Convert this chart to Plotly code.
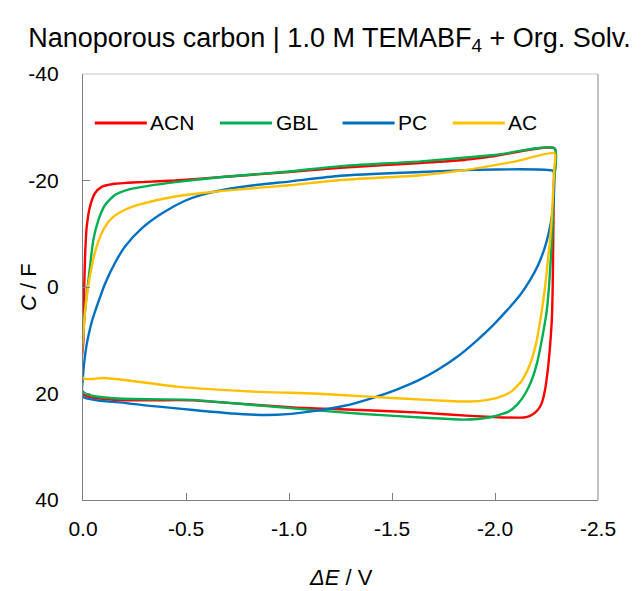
import plotly.graph_objects as go

# ---------------- data ----------------
names = ["ACN", "GBL", "PC", "AC"]
colors = ["#FF0000", "#00B050", "#0070C0", "#FFC000"]

E_ACN = [0.0, -0.002, -0.005, -0.010, -0.018, -0.034, -0.058, -0.091, -0.139, -0.285, -0.447, -0.69, -1.0, -1.25, -1.64, -1.83, -2.0, -2.29,
         -2.286, -2.283, -2.28, -2.276, -2.267, -2.255, -2.243, -2.232, -2.22, -2.20, -2.17, -2.14, -2.04, -1.88, -1.64, -1.345, -1.02, -0.535, 0.0]
C_ACN = [20.1, 10.0, 1.8, -5.7, -11.3, -15.1, -17.6, -18.8, -19.3, -19.7, -20.0, -20.7, -21.6, -22.4, -23.3, -23.8, -24.6, -26.0,
         -20.0, -10.0, 0.0, 6.0, 11.2, 16.0, 19.3, 21.2, 22.4, 23.4, 24.2, 24.5, 24.5, 24.2, 23.6, 23.1, 22.6, 21.3, 20.1]

E_GBL = [0.0, -0.003, -0.017, -0.034, -0.050, -0.075, -0.107, -0.155, -0.22, -0.317, -0.447, -0.69, -1.0, -1.25, -1.64, -2.0, -2.29,
         -2.287, -2.278, -2.262, -2.251, -2.236, -2.204, -2.178, -2.147, -2.11, -2.066, -1.97, -1.85, -1.68, -1.345, -1.02, -0.535, 0.0]
C_GBL = [19.7, 8.0, 1.8, -3.8, -8.8, -12.6, -15.4, -17.3, -18.3, -19.0, -19.7, -20.7, -21.7, -22.7, -23.6, -24.8, -26.0,
         -20.0, -10.0, 0.0, 4.5, 8.1, 14.3, 17.5, 20.0, 22.0, 23.4, 24.5, 24.9, 24.6, 23.8, 22.8, 21.2, 19.7]

E_PC = [0.0, 0.0, -0.008, -0.017, -0.030, -0.045, -0.062, -0.082, -0.107, -0.155, -0.204, -0.285, -0.382, -0.495, -0.568, -0.69, -0.85, -1.0, -1.25, -1.64, -1.9, -2.12, -2.25, -2.283,
        -2.287, -2.284, -2.275, -2.26, -2.24, -2.21, -2.17, -2.12, -2.06, -1.99, -1.91, -1.82, -1.72, -1.63, -1.52, -1.40, -1.27, -1.10, -0.94, -0.78, -0.535, -0.21, 0.0]
C_PC = [20.6, 16.8, 13.5, 11.0, 8.5, 6.2, 4.2, 2.0, -0.6, -4.5, -7.6, -11.0, -13.8, -16.2, -17.2, -18.3, -19.2, -19.8, -20.9, -21.6, -22.0, -22.1, -22.0, -21.8,
        -19.0, -16.0, -13.0, -10.0, -7.2, -4.2, -1.3, 1.6, 4.3, 7.2, 10.1, 13.0, 15.6, 17.5, 19.3, 20.9, 22.3, 23.4, 24.0, 23.9, 23.1, 21.8, 20.6]

E_AC = [0.0, -0.003, -0.018, -0.042, -0.066, -0.098, -0.139, -0.204, -0.285, -0.447, -0.568, -0.69, -1.0, -1.25, -1.64, -1.86, -2.1, -2.29,
        -2.287, -2.28, -2.27, -2.257, -2.243, -2.225, -2.2, -2.17, -2.13, -2.08, -2.02, -1.95, -1.88, -1.80, -1.71, -1.345, -1.117, -0.86, -0.455, -0.21, -0.1, 0.0]
C_AC = [17.1, 8.0, 1.8, -3.8, -7.6, -10.7, -12.9, -14.5, -15.6, -17.0, -17.6, -18.1, -19.1, -20.1, -21.0, -22.0, -23.6, -25.1,
        -22.0, -16.0, -10.0, -5.0, 0.0, 5.0, 10.5, 14.5, 17.6, 19.6, 20.7, 21.3, 21.5, 21.45, 21.3, 20.5, 20.0, 19.7, 18.7, 17.5, 17.1, 17.1]

x_ticks = [0.0, -0.5, -1.0, -1.5, -2.0, -2.5]
y_ticks = [-40, -20, 0, 20, 40]

series = [(E_ACN, C_ACN), (E_GBL, C_GBL), (E_PC, C_PC), (E_AC, C_AC)]

FONT = "Liberation Sans, Arial, sans-serif"

fig = go.Figure()
for (ex, cy), nm, col in zip(series, names, colors):
    fig.add_trace(go.Scatter(x=ex, y=cy, mode="lines", name=nm,
                             line=dict(color=col, width=2.4, shape="spline", smoothing=0.6),
                             showlegend=False))

# custom legend (line sample + label) placed inside the plot area
leg_x = [0.023, 0.266, 0.504, 0.718]
for i, (nm, col) in enumerate(zip(names, colors)):
    x0 = leg_x[i]
    fig.add_shape(type="line", xref="paper", yref="paper", x0=x0, x1=x0 + 0.101,
                  y0=0.885, y1=0.885, line=dict(color=col, width=3))
    fig.add_annotation(xref="paper", yref="paper", x=x0 + 0.104, y=0.885, text=nm,
                       showarrow=False, xanchor="left", yanchor="middle",
                       font=dict(family=FONT, size=21, color="#000000"))

# axis titles placed as annotations (positions as in the reference)
fig.add_annotation(xref="paper", yref="paper", x=-0.107, y=0.5, text="<i>C</i> / F",
                   textangle=-90, showarrow=False, xanchor="center", yanchor="middle",
                   font=dict(family=FONT, size=22, color="#000000"))
fig.add_annotation(xref="paper", yref="paper", x=0.5, y=-0.183, text="<i>ΔE</i> / V",
                   showarrow=False, xanchor="center", yanchor="middle",
                   font=dict(family=FONT, size=22, color="#000000"))

# light frame on top and right
fig.add_shape(type="line", xref="paper", yref="paper", x0=0, x1=1, y0=1, y1=1,
              line=dict(color="#C8C8C8", width=1.2))
fig.add_shape(type="line", xref="paper", yref="paper", x0=1, x1=1, y0=0, y1=1,
              line=dict(color="#9A9A9A", width=1.2))

fig.update_layout(
    width=641, height=591,
    margin=dict(l=83, r=43, t=74, b=91),
    paper_bgcolor="white", plot_bgcolor="white",
    font=dict(family=FONT, size=21, color="#000000"),
    title=dict(text="Nanoporous carbon | 1.0 M TEMABF<sub>4</sub> + Org. Solv.",
               x=0.514, xanchor="center", y=0.937, yanchor="middle",
               font=dict(family=FONT, size=27, color="#000000")),
    showlegend=False,
)
fig.update_xaxes(range=[0, -2.5], tickvals=x_ticks, ticktext=[f"{v:.1f}" for v in x_ticks],
                 showgrid=False, zeroline=False, showline=True, linecolor="#7F7F7F", linewidth=1.2,
                 ticks="inside", ticklen=7, tickcolor="#7F7F7F", ticklabelstandoff=10,
                 tickfont=dict(family=FONT, size=21), automargin=False)
fig.update_yaxes(range=[40, -40], tickvals=y_ticks, ticktext=[str(v) for v in y_ticks],
                 showgrid=False, zeroline=False, showline=True, linecolor="#7F7F7F", linewidth=1.2,
                 ticks="inside", ticklen=7, tickcolor="#7F7F7F", ticklabelstandoff=19,
                 tickfont=dict(family=FONT, size=21), automargin=False)

fig.write_html("out.html")
